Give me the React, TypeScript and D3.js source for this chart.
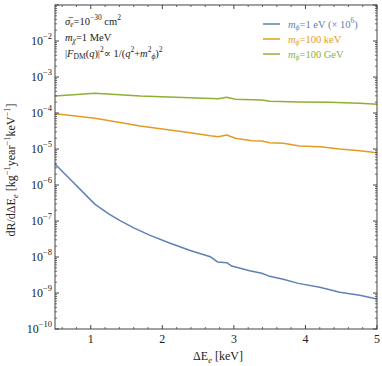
import React from "react";
import * as d3 from "d3";

const blueX = [0.5, 1.06, 1.25, 1.41, 1.6, 1.83, 2.11, 2.39, 2.67, 2.77, 2.9, 2.97, 3.22, 3.39, 3.5, 3.69, 3.9, 4.2, 4.48, 4.76, 5.0];
const blueY = [3.83e-6, 2.9e-7, 1.58e-7, 1.02e-7, 6.45e-8, 3.98e-8, 2.4e-8, 1.51e-8, 1.02e-8, 7.3e-9, 6.95e-9, 5.6e-9, 4.16e-9, 3.52e-9, 2.9e-9, 2.4e-9, 1.85e-9, 1.44e-9, 1.05e-9, 8.6e-10, 6.8e-10];

const orangeX = [0.5, 1.06, 1.69, 2.39, 2.67, 2.78, 2.9, 3.02, 3.25, 3.39, 3.5, 3.69, 3.92, 4.2, 4.48, 4.76, 5.0];
const orangeY = [9.57e-5, 7.13e-5, 4.35e-5, 2.84e-5, 2.34e-5, 2.2e-5, 2.45e-5, 1.98e-5, 1.7e-5, 1.67e-5, 1.5e-5, 1.44e-5, 1.21e-5, 1.16e-5, 1.0e-5, 8.97e-6, 7.9e-6];

const greenX = [0.5, 1.06, 1.69, 2.39, 2.78, 2.9, 3.02, 3.39, 3.5, 3.92, 4.34, 4.76, 5.0];
const greenY = [2.97e-4, 3.52e-4, 2.97e-4, 2.66e-4, 2.5e-4, 2.73e-4, 2.42e-4, 2.3e-4, 2.11e-4, 2.02e-4, 1.99e-4, 1.86e-4, 1.75e-4];

const xTicks = [1, 2, 3, 4, 5];
const yTickExps = [-10, -9, -8, -7, -6, -5, -4, -3, -2];

const COLORS = { blue: "#5E81B5", orange: "#E19C24", green: "#8FB032" };

const W = 382, H = 366;
const L = 55, R = 377, T = 5, B = 329;

export default function App() {
  const x = d3.scaleLinear().domain([0.5, 5]).range([L, R]);
  const y = d3.scaleLog().domain([1e-10, 1e-1]).range([B, T]);
  const line = d3
    .line<[number, number]>()
    .x((d) => x(d[0]))
    .y((d) => y(d[1]));

  const series = [
    { xs: blueX, ys: blueY, color: COLORS.blue },
    { xs: orangeX, ys: orangeY, color: COLORS.orange },
    { xs: greenX, ys: greenY, color: COLORS.green },
  ];

  const minorX: number[] = [];
  for (let v = 0.6; v < 5.0001; v += 0.2) {
    const r = Math.round(v * 10) / 10;
    if (Math.abs(r - Math.round(r)) > 1e-6) minorX.push(r);
  }
  const minorY: number[] = [];
  for (let e = -10; e < -1; e++) {
    for (let m = 2; m <= 9; m++) minorY.push(m * Math.pow(10, e));
  }
  const majorY = [...yTickExps, -1].map((e) => Math.pow(10, e));

  const font = "'Liberation Serif', 'Times New Roman', 'DejaVu Serif', serif";
  const axisColor = "#444";

  return (
    <svg width={W} height={H} style={{ position: "absolute", left: 0, top: 0, fontFamily: font }}>
      <rect x={0} y={0} width={W} height={H} fill="white" />
      <defs>
        <clipPath id="clip">
          <rect x={L} y={T} width={R - L} height={B - T} />
        </clipPath>
      </defs>
      <g clipPath="url(#clip)">
        {series.map((s, i) => (
          <path
            key={i}
            d={line(s.xs.map((v, j) => [v, s.ys[j]] as [number, number])) || ""}
            fill="none"
            stroke={s.color}
            strokeWidth={1.5}
            strokeLinejoin="round"
          />
        ))}
      </g>
      <rect x={L} y={T} width={R - L} height={B - T} fill="none" stroke={axisColor} strokeWidth={1} />
      {xTicks.map((t) => (
        <g key={"xt" + t}>
          <line x1={x(t)} x2={x(t)} y1={B} y2={B - 4} stroke={axisColor} />
          <line x1={x(t)} x2={x(t)} y1={T} y2={T + 4} stroke={axisColor} />
          <text x={x(t)} y={343} fontSize={12} textAnchor="middle" fill="#222" style={{ fontFamily: font }}>
            {t}
          </text>
        </g>
      ))}
      {minorX.map((t) => (
        <g key={"xm" + t}>
          <line x1={x(t)} x2={x(t)} y1={B} y2={B - 2} stroke={axisColor} strokeWidth={0.8} />
          <line x1={x(t)} x2={x(t)} y1={T} y2={T + 2} stroke={axisColor} strokeWidth={0.8} />
        </g>
      ))}
      {majorY.map((t, i) => (
        <g key={"ym" + i}>
          <line x1={L} x2={L + 4} y1={y(t)} y2={y(t)} stroke={axisColor} />
          <line x1={R} x2={R - 4} y1={y(t)} y2={y(t)} stroke={axisColor} />
        </g>
      ))}
      {minorY.map((t, i) => (
        <g key={"yn" + i}>
          <line x1={L} x2={L + 2} y1={y(t)} y2={y(t)} stroke={axisColor} strokeWidth={0.8} />
          <line x1={R} x2={R - 2} y1={y(t)} y2={y(t)} stroke={axisColor} strokeWidth={0.8} />
        </g>
      ))}
      {yTickExps.map((e) => (
        <text key={"yl" + e} x={52} y={y(Math.pow(10, e)) + 4} fontSize={12} textAnchor="end" fill="#222" style={{ fontFamily: font }}>
          10
          <tspan fontSize={8.5} dy={-6}>
            {"\u2212" + Math.abs(e)}
          </tspan>
        </text>
      ))}
      <text x={218} y={360} fontSize={12} textAnchor="middle" fill="#222" style={{ fontFamily: font }}>
        ΔE
        <tspan fontSize={8.5} dy={3} fontStyle="italic">e</tspan>
        <tspan dy={-3}> [keV]</tspan>
      </text>
      <text transform="translate(15,170) rotate(-90)" fontSize={12} textAnchor="middle" fill="#222" style={{ fontFamily: font }}>
        dR/dΔE
        <tspan fontSize={8.5} dy={3} fontStyle="italic">e</tspan>
        <tspan dy={-3}> [kg</tspan>
        <tspan fontSize={8.5} dy={-5}>−1</tspan>
        <tspan dy={5}>year</tspan>
        <tspan fontSize={8.5} dy={-5}>−1</tspan>
        <tspan dy={5}>keV</tspan>
        <tspan fontSize={8.5} dy={-5}>−1</tspan>
        <tspan dy={5}>]</tspan>
      </text>
      <g fontSize={10.5} fill="#222" style={{ fontFamily: font }}>
        <text x={65} y={25}>
          <tspan fontStyle="italic">σ̅</tspan>
          <tspan fontSize={7.5} dy={2} fontStyle="italic">e</tspan>
          <tspan dy={-2}>=10</tspan>
          <tspan fontSize={7.5} dy={-5}>−30</tspan>
          <tspan dy={5}> cm</tspan>
          <tspan fontSize={7.5} dy={-5}>2</tspan>
        </text>
        <text x={65} y={41}>
          <tspan fontStyle="italic">m</tspan>
          <tspan fontSize={7.5} dy={2} fontStyle="italic">χ</tspan>
          <tspan dy={-2}>=1 MeV</tspan>
        </text>
        <text x={65} y={57}>
          |<tspan fontStyle="italic">F</tspan>
          <tspan fontSize={7.5} dy={2}>DM</tspan>
          <tspan dy={-2}>(</tspan>
          <tspan fontStyle="italic">q</tspan>
          <tspan>)|</tspan>
          <tspan fontSize={7.5} dy={-5}>2</tspan>
          <tspan dy={5}>∝ 1/(</tspan>
          <tspan fontStyle="italic">q</tspan>
          <tspan fontSize={7.5} dy={-5}>2</tspan>
          <tspan dy={5}>+</tspan>
          <tspan fontStyle="italic">m</tspan>
          <tspan fontSize={7.5} dy={-5}>2</tspan>
          <tspan fontSize={7.5} dy={7} fontStyle="italic">ϕ</tspan>
          <tspan dy={-2}>)</tspan>
          <tspan fontSize={7.5} dy={-5}>2</tspan>
        </text>
      </g>
      {[
        { c: COLORS.blue, label: "1 eV (× 10", sup: "6", tail: ")" },
        { c: COLORS.orange, label: "100 keV" },
        { c: COLORS.green, label: "100 GeV" },
      ].map((it, i) => {
        const ly = 24 + i * 15;
        return (
          <g key={"lg" + i}>
            <line x1={263} x2={280} y1={ly} y2={ly} stroke={it.c} strokeWidth={1.5} />
            <text x={288} y={ly + 3.5} fontSize={10.5} fill={it.c} style={{ fontFamily: font }}>
              <tspan fontStyle="italic">m</tspan>
              <tspan fontSize={7.5} dy={2} fontStyle="italic">ϕ</tspan>
              <tspan dy={-2}>={it.label}</tspan>
              {it.sup ? (
                <>
                  <tspan fontSize={7.5} dy={-5}>{it.sup}</tspan>
                  <tspan dy={5}>{it.tail}</tspan>
                </>
              ) : null}
            </text>
          </g>
        );
      })}
    </svg>
  );
}
